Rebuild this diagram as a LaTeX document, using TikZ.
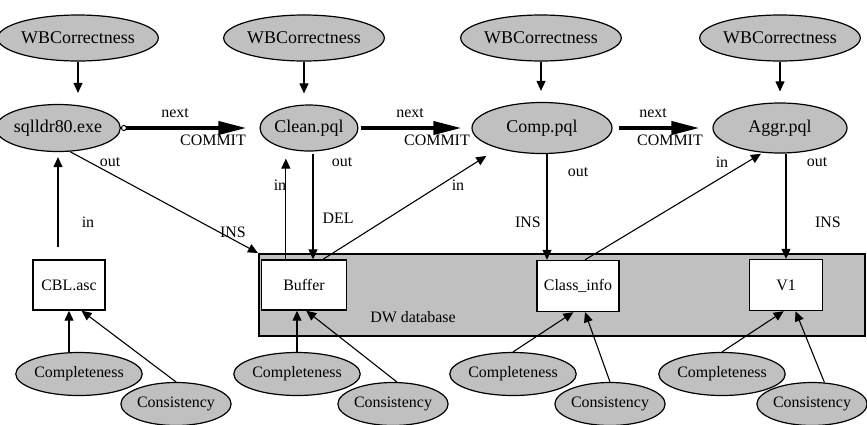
\documentclass[tikz,border=0pt]{standalone}
\usepackage{fontspec}
\setmainfont{Liberation Serif}
\usetikzlibrary{shapes.geometric,arrows.meta,calc}
\definecolor{gfill}{RGB}{192,192,192}
\tikzset{
  oval/.style={ellipse,draw,fill=gfill,line width=1.2bp,inner sep=0pt},
  wbnode/.style={oval,minimum width=138bp,minimum height=46bp,font=\fontsize{18}{20}\selectfont},
  procnode/.style={oval,font=\fontsize{18}{20}\selectfont},
  qual/.style={oval,minimum width=110bp,minimum height=43bp,font=\fontsize{16}{18}\selectfont},
  store/.style={rectangle,draw,fill=white,line width=1.4bp,inner sep=0pt,font=\fontsize{16}{18}\selectfont},
  lab/.style={inner sep=0pt,font=\fontsize{16}{18}\selectfont},
  arr/.style={line width=1.1bp,-{Triangle[length=10bp,width=9bp]}},
  nextarr/.style={line width=3.8bp,-{Triangle[length=28bp,width=13bp]}},
}
\begin{document}
\begin{tikzpicture}[x=1bp,y=-1bp]
\useasboundingbox (0,0) rectangle (867,424);
% data warehouse area
\node[draw,fill=gfill,line width=2.4bp,minimum width=606bp,minimum height=82bp,inner sep=0pt,anchor=north west] (dw) at (258,253) {};
\node[lab] (dwlab) at (413,317) {DW database};
% top quality ellipses
\node[wbnode] (wb1) at (78,38) {WBCorrectness};
\node[wbnode] (wb2) at (304,38) {WBCorrectness};
\node[wbnode] (wb3) at (541,38) {WBCorrectness};
\node[wbnode] (wb4) at (780,38) {WBCorrectness};
% processes
\node[procnode,minimum width=94bp,minimum height=47bp] (sq) at (58,128) {sqlldr80.exe};
\node[procnode,minimum width=92bp,minimum height=46bp] (cl) at (309,128) {Clean.pql};
\node[procnode,minimum width=140bp,minimum height=51bp] (cp) at (542,128) {Comp.pql};
\node[procnode,minimum width=134bp,minimum height=50bp] (ag) at (780,128) {Aggr.pql};
% stores
\node[store,minimum width=72bp,minimum height=50bp] (cbl) at (69,285) {CBL.asc};
\node[store,minimum width=85bp,minimum height=50bp] (buf) at (304,285) {Buffer};
\node[store,minimum width=82bp,minimum height=51bp] (cls) at (578,286) {Class\_info};
\node[store,minimum width=73bp,minimum height=51bp] (v1) at (786,285) {V1};
% bottom quality ellipses
\node[qual] (c1) at (79,374) {Completeness};
\node[qual] (s1) at (176,404) {Consistency};
\node[qual] (c2) at (297,374) {Completeness};
\node[qual] (s2) at (393,404) {Consistency};
\node[qual] (c3) at (513,374) {Completeness};
\node[qual] (s3) at (610,404) {Consistency};
\node[qual] (c4) at (722,374) {Completeness};
\node[qual,minimum width=106bp] (s4) at (812,404) {Consistency};
% WB arrows
\foreach \w/\p in {wb1/sq,wb2/cl,wb3/cp,wb4/ag}{
  \draw[arr,shorten >=11bp] (\w.south) -- (\w.south |- \p.north);
}
% next arrows
\draw[nextarr,{Circle[open,length=6bp,line width=1bp]}-{Triangle[length=28bp,width=13bp]},shorten >=13bp] (sq) -- (cl);
\draw[nextarr,shorten >=10bp,shorten <=2bp] (cl) -- (cp);
\draw[nextarr,shorten >=13bp,shorten <=6bp] (cp) -- (ag);
\node[lab] (n1) at (175,113) {next};
\node[lab] (m1) at (213,140) {COMMIT};
\node[lab] (n2) at (410,113) {next};
\node[lab] (m2) at (437,140) {COMMIT};
\node[lab] (n3) at (653,113) {next};
\node[lab] (m3) at (670,140) {COMMIT};
% CBL -> sqlldr
\draw[arr,shorten <=12bp,shorten >=5bp] (sq.south |- cbl.north) -- (sq.south);
\node[lab] (i1) at (88,222) {in};
% sqlldr -> DW (Buffer)
\draw[arr] (sq.-63) -- (dw.north west);
\node[lab] (o1) at (110,162) {out};
\node[lab] (x1) at (233,232) {INS};
% Buffer -> Clean
\coordinate (bin) at ($(buf.north west)!0.29!(buf.north east)$);
\draw[arr,shorten >=7bp] (bin) -- (bin |- cl.south);
\node[lab] (i2) at (280,185) {in};
% Clean -> Buffer
\coordinate (bout) at ($(buf.north)+(9bp,0)$);
\draw[arr,shorten <=2bp] (bout |- cl.south) -- (bout);
\node[lab] (o2) at (342,162) {out};
\node[lab] (d2) at (338,218) {DEL};
% Buffer -> Comp
\draw[arr,shorten >=14bp] ($(buf.north)+(19bp,0)$) -- (cp.-155);
\node[lab] (i3) at (458,185) {in};
% Comp -> Class_info
\coordinate (cout) at ($(cp.south)+(5bp,0)$);
\draw[arr] (cout) -- (cout |- cls.north);
\node[lab] (o3) at (578,172) {out};
\node[lab] (x3) at (528,222) {INS};
% Class_info -> Aggr
\draw[arr,shorten >=2bp] ($(cls.north)+(7bp,0)$) -- (ag.-125);
\node[lab] (i4) at (722,162) {in};
% Aggr -> V1
\draw[arr] (v1.north |- ag.south) -- (v1.north);
\node[lab] (o4) at (817,162) {out};
\node[lab] (x4) at (828,222) {INS};
% bottom quality arrows
\draw[arr] (c1.north -| cbl.south) -- (cbl.south);
\draw[arr] (s1.north) -- (cbl.-64);
\draw[arr] (c2.north) -- (c2.north |- buf.south);
\draw[arr] (s2.80) -- (buf.-85);
\draw[arr] (c3.north) -- (cls.-100);
\draw[arr] (s3.north) -- (cls.-75);
\draw[arr] (c4.north) -- (v1.-95);
\draw[arr] (s4.60) -- (v1.-70);
\end{tikzpicture}
\end{document}
